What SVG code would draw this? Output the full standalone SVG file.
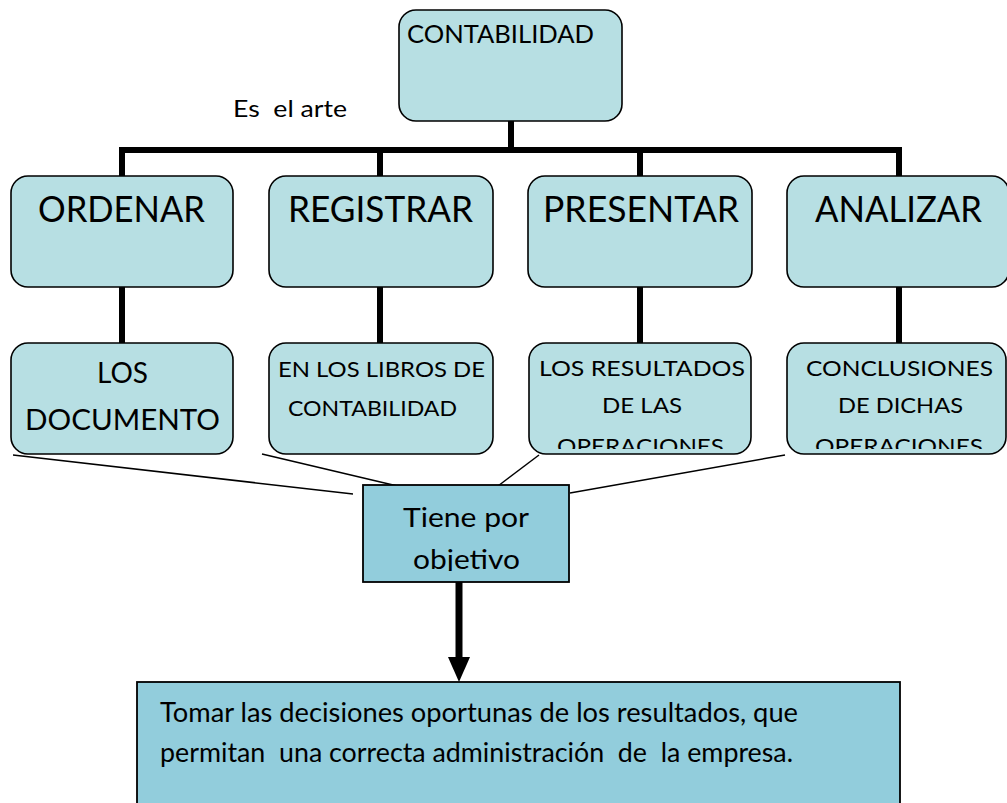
<svg xmlns="http://www.w3.org/2000/svg" width="1007" height="803" viewBox="0 0 1007 803">
<style>
text{font-family:Lato,"Open Sans","Liberation Sans",sans-serif;fill:#000}
.rb{fill:#b7dfe3;stroke:#000;stroke-width:1.6}
.db{fill:#92cddc;stroke:#000;stroke-width:1.8}
.thick{stroke:#000;stroke-width:6;fill:none}
.thin{stroke:#000;stroke-width:1.5;fill:none}
.big{font-size:36px}
.mid{font-size:28px}
.sm{font-size:22px}
</style>
<defs>
<clipPath id="c3"><rect x="529" y="343" width="222" height="106"/></clipPath>
<clipPath id="c4"><rect x="787" y="343" width="219" height="106"/></clipPath>
<clipPath id="ct"><rect x="363" y="485" width="206" height="86"/></clipPath>
<marker id="ah" viewBox="0 0 22 25" refX="11" refY="0" markerWidth="22" markerHeight="25" markerUnits="userSpaceOnUse" orient="auto">
<path d="M0,0 L22,0 L11,25 Z" fill="#000" transform="translate(0,0)"/>
</marker>
</defs>
<g id="connectors">
<path class="thick" d="M511,121 V150 M119,150 H902 M122,147 V177 M380,150 V177 M640,150 V177 M899,147 V177"/>
<path class="thick" d="M122,287 V343 M380,287 V343 M640,287 V343 M899,287 V343"/>
<line class="thin" x1="13" y1="455" x2="353" y2="494"/>
<line class="thin" x1="262" y1="454" x2="410" y2="489"/>
<line class="thin" x1="539" y1="455" x2="494" y2="489"/>
<line class="thin" x1="785" y1="455" x2="570" y2="493"/>
<path d="M459,582 V657" stroke="#000" stroke-width="7" fill="none"/>
<path d="M448,657 L470,657 L459,682 Z" fill="#000"/>
</g>
<g id="contabilidad">
<rect class="rb" x="399" y="10" width="223" height="111" rx="17"/>
<text x="407" y="43" font-size="25" textLength="187" lengthAdjust="spacingAndGlyphs">CONTABILIDAD</text>
</g>
<g id="es-el-arte">
<text x="233" y="117" font-size="24" textLength="114" lengthAdjust="spacingAndGlyphs" xml:space="preserve">Es  el arte</text>
</g>
<g id="ordenar">
<rect class="rb" x="11" y="176" width="222" height="111" rx="17"/>
<text class="big" x="38" y="222" textLength="167" lengthAdjust="spacingAndGlyphs">ORDENAR</text>
</g>
<g id="registrar">
<rect class="rb" x="269" y="176" width="224" height="111" rx="17"/>
<text class="big" x="288" y="222" textLength="185" lengthAdjust="spacingAndGlyphs">REGISTRAR</text>
</g>
<g id="presentar">
<rect class="rb" x="528" y="176" width="224" height="111" rx="17"/>
<text class="big" x="543" y="222" textLength="196" lengthAdjust="spacingAndGlyphs">PRESENTAR</text>
</g>
<g id="analizar">
<rect class="rb" x="787" y="176" width="222" height="111" rx="17"/>
<text class="big" x="815" y="222" textLength="167" lengthAdjust="spacingAndGlyphs">ANALIZAR</text>
</g>
<g id="los-documento">
<rect class="rb" x="11" y="343" width="222" height="111" rx="17"/>
<text class="mid" x="97" y="383" textLength="51" lengthAdjust="spacingAndGlyphs">LOS</text>
<text class="mid" x="25" y="430" textLength="195" lengthAdjust="spacingAndGlyphs">DOCUMENTO</text>
</g>
<g id="libros">
<rect class="rb" x="269" y="343" width="224" height="111" rx="17"/>
<text class="sm" x="278" y="377" textLength="207" lengthAdjust="spacingAndGlyphs">EN LOS LIBROS DE</text>
<text class="sm" x="288" y="416" textLength="169" lengthAdjust="spacingAndGlyphs">CONTABILIDAD</text>
</g>
<g id="resultados">
<rect class="rb" x="529" y="343" width="222" height="111" rx="17"/>
<text class="sm" x="539" y="376" textLength="206" lengthAdjust="spacingAndGlyphs">LOS RESULTADOS</text>
<text class="sm" x="602" y="413" textLength="80" lengthAdjust="spacingAndGlyphs">DE LAS</text>
<text class="sm" x="557" y="453.5" textLength="167" lengthAdjust="spacingAndGlyphs" clip-path="url(#c3)">OPERACIONES</text>
</g>
<g id="conclusiones">
<rect class="rb" x="787" y="343" width="219" height="111" rx="17"/>
<text class="sm" x="806" y="376" textLength="187" lengthAdjust="spacingAndGlyphs">CONCLUSIONES</text>
<text class="sm" x="838" y="413" textLength="125" lengthAdjust="spacingAndGlyphs">DE DICHAS</text>
<text class="sm" x="815" y="453.5" textLength="168" lengthAdjust="spacingAndGlyphs" clip-path="url(#c4)">OPERACIONES</text>
</g>
<g id="tiene-por-objetivo">
<rect class="db" x="363" y="485" width="206" height="97"/>
<text x="403" y="527" font-size="26.5" textLength="126" lengthAdjust="spacingAndGlyphs">Tiene por</text>
<text x="413" y="569" font-size="26.5" textLength="107" lengthAdjust="spacingAndGlyphs" clip-path="url(#ct)">objetivo</text>
</g>
<g id="decisiones">
<rect class="db" x="137" y="682" width="763" height="140"/>
<text x="160" y="722" font-size="26" textLength="638" lengthAdjust="spacingAndGlyphs">Tomar las decisiones oportunas de los resultados, que</text>
<text x="160" y="762" font-size="26" textLength="633" lengthAdjust="spacingAndGlyphs" xml:space="preserve">permitan  una correcta administración  de  la empresa.</text>
</g>
</svg>
